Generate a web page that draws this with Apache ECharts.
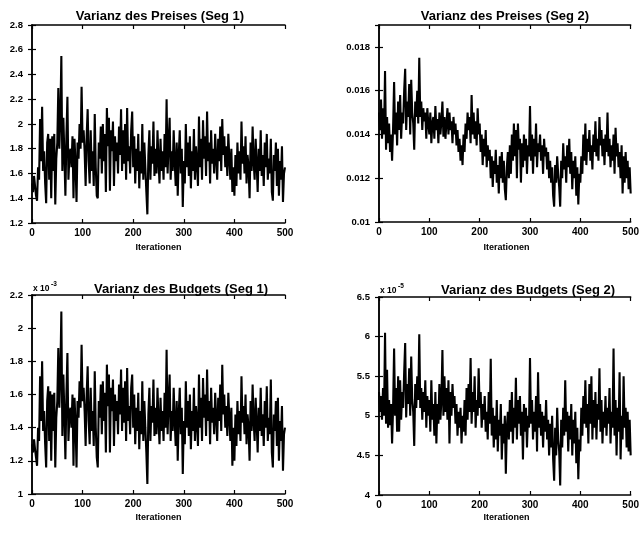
<!DOCTYPE html>
<html>
<head>
<meta charset="utf-8">
<style>
  html, body { margin: 0; padding: 0; background: #fff; }
  #chart { width: 642px; height: 535px; }
</style>
<script src="https://cdn.jsdelivr.net/npm/echarts@6/dist/echarts.min.js"></script>
</head>
<body>
<div id="chart"></div>
<script>
// Gibbs sampler traces: variance draws per iteration (every 2nd draw kept)
const iterStep = 2;
const xTicks = [0, 100, 200, 300, 400, 500];

// Varianz des Preises, Segment 1
const priceVarSeg1 = [
  1.52,1.45,1.58,1.50,1.42, 1.38,1.65,1.55,2.04,1.70, 2.14,1.62,1.78,1.52,1.36, 1.85,1.92,1.55,1.88,1.40,
  1.90,1.62,1.92,1.35,1.72, 1.85,2.29,1.80,2.05,2.55, 1.62,2.05,1.75,1.42,1.90, 2.22,1.55,1.75,1.80,1.65,
  1.90,1.40,1.88,1.68,1.37, 1.85,1.72,2.00,1.80,2.30, 1.85,1.95,1.78,1.50,1.90, 2.12,1.70,1.52,1.95,1.62,
  1.78,1.50,2.08,1.65,1.42, 1.40,1.85,1.72,1.98,1.60, 2.00,1.70,1.92,1.45,2.13, 1.82,2.05,1.46,1.95,1.78,
  2.02,1.50,1.90,1.70,1.85, 1.60,1.98,1.75,2.12,1.62, 1.95,1.68,2.00,1.55,2.13, 1.70,1.82,1.60,1.95,2.10,
  1.65,1.90,1.52,1.80,1.62, 1.92,1.48,1.78,1.60,2.00, 1.55,1.85,1.65,1.45,1.27, 1.75,1.95,1.55,1.82,1.68,
  2.02,1.58,1.80,1.60,1.95, 1.70,1.52,1.88,1.62,1.78, 1.55,1.92,1.65,2.20,1.60, 1.85,2.05,1.55,1.78,1.62,
  1.95,1.70,1.50,1.85,1.42, 1.75,1.95,1.60,1.80,1.33, 1.70,1.52,2.00,1.65,1.85, 1.58,1.90,1.48,1.78,1.62,
  1.96,1.55,1.82,1.68,1.50, 2.06,1.65,1.88,1.55,2.03, 1.72,1.90,1.58,2.10,1.70, 1.85,1.52,1.95,1.68,1.80,
  1.60,1.92,1.72,1.55,1.88, 1.70,1.98,1.62,2.04,1.75, 1.90,1.65,1.82,1.58,1.92, 1.72,1.55,1.80,1.45,1.65,
  1.42,1.75,1.50,1.85,1.60, 1.78,1.55,2.02,1.68,1.82, 1.60,1.90,1.52,1.75,1.65, 1.40,1.85,1.62,1.98,1.70,
  1.55,1.88,1.68,1.45,1.80, 1.62,1.95,1.58,1.75,1.50, 1.85,1.65,1.92,1.55,1.72, 1.60,1.88,1.45,1.38,1.75,
  1.62,1.85,1.50,1.80,1.42, 1.70,1.55,1.82,1.37,1.60, 1.65
];

// Varianz des Preises, Segment 2
const priceVarSeg2 = [
  0.0150,0.0142,0.0156,0.0138,0.0152, 0.0140,0.0169,0.0133,0.0148,0.0136, 0.0145,0.0132,0.0140,0.0128,0.0143,
  0.0164,0.0140,0.0150,0.0135,0.0155, 0.0142,0.0158,0.0138,0.0150,0.0145, 0.0160,0.0170,0.0142,0.0155,0.0148,
  0.0163,0.0140,0.0165,0.0150,0.0145, 0.0133,0.0155,0.0148,0.0160,0.0145, 0.0175,0.0148,0.0155,0.0142,0.0152,
  0.0146,0.0150,0.0138,0.0152,0.0145, 0.0140,0.0150,0.0136,0.0145,0.0148, 0.0138,0.0153,0.0142,0.0147,0.0136,
  0.0150,0.0140,0.0146,0.0155,0.0139, 0.0148,0.0138,0.0145,0.0152,0.0140, 0.0150,0.0142,0.0146,0.0136,0.0148,
  0.0140,0.0145,0.0135,0.0142,0.0132, 0.0138,0.0128,0.0135,0.0126,0.0140, 0.0132,0.0145,0.0138,0.0150,0.0142,
  0.0148,0.0136,0.0158,0.0140,0.0150, 0.0138,0.0146,0.0135,0.0152,0.0140, 0.0145,0.0132,0.0140,0.0126,0.0138,
  0.0130,0.0142,0.0125,0.0135,0.0128, 0.0133,0.0120,0.0130,0.0116,0.0128, 0.0122,0.0133,0.0118,0.0126,0.0113,
  0.0130,0.0120,0.0132,0.0118,0.0128, 0.0115,0.0110,0.0125,0.0132,0.0120, 0.0135,0.0122,0.0140,0.0128,0.0145,
  0.0130,0.0142,0.0120,0.0145,0.0133, 0.0138,0.0118,0.0136,0.0125,0.0140, 0.0128,0.0138,0.0122,0.0135,0.0130,
  0.0153,0.0128,0.0140,0.0122,0.0138, 0.0130,0.0145,0.0125,0.0136,0.0132, 0.0140,0.0128,0.0135,0.0122,0.0138,
  0.0130,0.0134,0.0124,0.0132,0.0120, 0.0128,0.0118,0.0125,0.0112,0.0107, 0.0126,0.0118,0.0130,0.0122,0.0116,
  0.0107,0.0128,0.0120,0.0136,0.0124, 0.0130,0.0118,0.0135,0.0125,0.0138, 0.0122,0.0132,0.0115,0.0128,0.0120,
  0.0130,0.0112,0.0125,0.0108,0.0122, 0.0118,0.0130,0.0122,0.0140,0.0128, 0.0145,0.0126,0.0138,0.0132,0.0142,
  0.0128,0.0135,0.0124,0.0140,0.0132, 0.0146,0.0130,0.0138,0.0128,0.0148, 0.0135,0.0142,0.0130,0.0138,0.0126,
  0.0140,0.0132,0.0150,0.0130,0.0138, 0.0125,0.0135,0.0128,0.0140,0.0122, 0.0143,0.0130,0.0136,0.0125,0.0132,
  0.0120,0.0135,0.0113,0.0130,0.0118, 0.0132,0.0120,0.0128,0.0115,0.0125, 0.0113
];

// Varianz des Budgets, Segment 1 (in units of 1e-3)
const budgetVarSeg1 = [
  1.30,1.25,1.33,1.27,1.22, 1.17,1.40,1.32,1.71,1.44, 1.80,1.38,1.50,1.30,1.16, 1.56,1.65,1.32,1.62,1.20,
  1.60,1.38,1.61,1.16,1.46, 1.56,1.88,1.52,1.72,2.10, 1.35,1.72,1.48,1.21,1.60, 1.85,1.32,1.48,1.52,1.40,
  1.60,1.17,1.58,1.43,1.16, 1.56,1.46,1.68,1.52,1.90, 1.56,1.64,1.50,1.29,1.60, 1.77,1.44,1.30,1.64,1.38,
  1.50,1.29,1.74,1.40,1.22, 1.16,1.56,1.46,1.66,1.36, 1.68,1.44,1.61,1.25,1.78, 1.53,1.72,1.25,1.64,1.50,
  1.69,1.29,1.60,1.44,1.56, 1.36,1.66,1.48,1.75,1.38, 1.64,1.43,1.68,1.32,1.76, 1.44,1.53,1.36,1.64,1.72,
  1.40,1.60,1.30,1.52,1.38, 1.61,1.27,1.50,1.36,1.68, 1.32,1.56,1.40,1.25,1.06, 1.48,1.64,1.32,1.53,1.43,
  1.69,1.35,1.52,1.36,1.64, 1.44,1.30,1.58,1.38,1.50, 1.32,1.61,1.40,1.87,1.36, 1.56,1.72,1.32,1.50,1.38,
  1.64,1.44,1.29,1.56,1.20, 1.48,1.64,1.36,1.52,1.12, 1.44,1.30,1.68,1.40,1.56, 1.35,1.60,1.27,1.50,1.38,
  1.64,1.32,1.53,1.43,1.29, 1.72,1.40,1.58,1.32,1.70, 1.46,1.60,1.35,1.75,1.44, 1.56,1.30,1.64,1.43,1.52,
  1.36,1.61,1.46,1.32,1.58, 1.44,1.66,1.38,1.78,1.48, 1.60,1.40,1.53,1.35,1.61, 1.46,1.32,1.52,1.17,1.40,
  1.20,1.48,1.29,1.56,1.36, 1.50,1.32,1.71,1.43,1.53, 1.36,1.60,1.30,1.48,1.40, 1.20,1.56,1.38,1.66,1.44,
  1.32,1.58,1.43,1.25,1.52, 1.38,1.64,1.35,1.48,1.29, 1.56,1.40,1.65,1.32,1.46, 1.36,1.69,1.25,1.16,1.48,
  1.38,1.56,1.29,1.58,1.20, 1.44,1.32,1.53,1.14,1.36, 1.40
];

// Varianz des Budgets, Segment 2 (in units of 1e-5)
const budgetVarSeg2 = [
  5.30,5.05,5.25,4.95,5.35, 5.00,6.05,4.90,5.58,4.85, 5.20,4.88,5.15,4.65,5.10, 5.85,5.00,5.35,4.80,5.50,
  4.80,5.45,4.95,5.30,5.10, 5.55,5.92,4.98,5.40,5.15, 5.60,5.00,5.75,5.20,5.05, 4.62,5.40,5.10,5.50,5.20,
  6.03,5.10,5.35,4.95,5.30, 5.05,5.45,4.85,5.25,5.00, 5.20,4.80,5.45,4.95,5.15, 4.75,5.30,4.65,5.15,4.90,
  5.40,4.95,5.20,5.83,5.00, 5.50,5.05,5.35,4.95,5.45, 4.65,5.30,5.00,5.40,5.10, 5.25,4.90,5.15,4.75,5.05,
  4.85,5.10,4.65,5.00,4.80, 5.20,4.75,5.35,4.95,5.40, 5.05,5.73,4.90,5.30,5.05, 5.50,4.85,5.20,5.00,5.60,
  5.10,5.30,4.85,5.15,4.95, 5.25,4.80,5.05,4.70,5.30, 4.90,5.72,4.75,5.10,4.60, 5.00,4.70,5.20,4.55,4.95,
  4.75,5.15,4.45,4.90,4.65, 5.00,4.27,4.85,5.05,4.70, 5.20,4.80,5.30,4.65,5.10, 4.85,5.48,4.70,5.20,4.90,
  5.25,4.75,5.05,4.45,5.15, 4.80,5.10,4.60,5.00,4.85, 5.73,4.90,5.20,4.70,5.05, 4.80,5.25,4.55,5.55,4.85,
  5.15,4.75,5.05,4.60,5.00, 4.80,5.20,4.70,4.95,4.50, 4.90,4.60,5.00,4.45,4.18, 4.85,4.50,5.10,4.70,4.55,
  4.12,4.95,4.60,5.10,4.75, 5.45,4.80,5.05,4.55,5.00, 4.70,5.15,4.50,4.95,4.65, 5.05,4.40,4.85,4.20,4.70,
  4.55,5.10,4.75,5.25,4.90, 5.45,4.85,5.15,4.65,5.40, 4.90,5.50,4.70,5.20,4.85, 5.30,4.70,5.15,4.95,5.60,
  4.80,5.20,4.65,5.05,4.85, 5.25,4.75,5.10,4.90,5.35, 4.65,5.05,4.85,5.85,4.75, 5.20,4.50,5.10,4.80,5.55,
  4.45,5.00,4.70,5.50,4.85, 5.10,4.60,5.05,4.55,4.95, 4.50
];

const FONT = '"Liberation Sans", Arial, Helvetica, sans-serif';

const panels = [
  { title: 'Varianz des Preises (Seg 1)',  data: priceVarSeg1,  yMin: 1.2,  yMax: 2.8,   yInt: 0.2,
    grid: { left: 32, top: 25, width: 253, height: 198 }, titleX: 160, titleY: 16, nameY: 248 },
  { title: 'Varianz des Preises (Seg 2)',  data: priceVarSeg2,  yMin: 0.01, yMax: 0.019, yInt: 0.002,
    grid: { left: 379, top: 25, width: 255, height: 197 }, titleX: 505, titleY: 16, nameY: 248 },
  { title: 'Varianz des Budgets (Seg 1)',  data: budgetVarSeg1, yMin: 1,    yMax: 2.2,   yInt: 0.2,
    grid: { left: 32, top: 295, width: 253, height: 199 }, titleX: 181, titleY: 289, nameY: 518, exp: '-3' },
  { title: 'Varianz des Budgets (Seg 2)',  data: budgetVarSeg2, yMin: 4,    yMax: 6.5,   yInt: 0.5,
    grid: { left: 379, top: 297, width: 255, height: 198 }, titleX: 528, titleY: 290, nameY: 518, exp: '-5' }
];

const grids = [], xAxes = [], yAxes = [], series = [], graphics = [];

const tickStyle = { show: true, inside: true, length: 4, lineStyle: { color: '#000', width: 1.2 } };
const lineStyle = { show: true, lineStyle: { color: '#000', width: 1.5 } };

panels.forEach((p, i) => {
  grids.push(Object.assign({ containLabel: false }, p.grid));
  const xb = xAxes.length;
  // bottom axis with labels, top axis as box edge with inward ticks
  xAxes.push({
    type: 'value', gridIndex: i, position: 'bottom', min: 0, max: 500, interval: 100,
    axisLine: lineStyle, axisTick: tickStyle, splitLine: { show: false },
    axisLabel: { color: '#000', fontFamily: FONT, fontWeight: 'bold', fontSize: 10, margin: 5 }
  });
  xAxes.push({
    type: 'value', gridIndex: i, position: 'top', min: 0, max: 500, interval: 100,
    axisLine: lineStyle, axisTick: tickStyle, splitLine: { show: false }, axisLabel: { show: false }
  });
  const yl = yAxes.length;
  yAxes.push({
    type: 'value', gridIndex: i, position: 'left', min: p.yMin, max: p.yMax, interval: p.yInt,
    axisLine: lineStyle, axisTick: tickStyle, splitLine: { show: false },
    axisLabel: { color: '#000', fontFamily: FONT, fontWeight: 'bold', fontSize: 9.5, margin: 9,
                 showMaxLabel: i !== 1 }
  });
  yAxes.push({
    type: 'value', gridIndex: i, position: 'right', min: p.yMin, max: p.yMax, interval: p.yInt,
    axisLine: lineStyle, axisTick: tickStyle, splitLine: { show: false }, axisLabel: { show: false }
  });
  series.push({
    type: 'line', xAxisIndex: xb, yAxisIndex: yl, showSymbol: false, symbol: 'none',
    animation: false, lineStyle: { color: '#000', width: 2.1 },
    data: p.data.map((v, k) => [k * iterStep, v])
  });
  graphics.push({
    type: 'text', x: p.titleX, y: p.titleY,
    style: { text: p.title, fill: '#000', font: 'bold 13px ' + FONT, textAlign: 'center', textVerticalAlign: 'middle' }
  });
  graphics.push({
    type: 'text', x: p.grid.left + p.grid.width / 2, y: p.nameY,
    style: { text: 'Iterationen', fill: '#000', font: 'bold 9px ' + FONT, textAlign: 'center', textVerticalAlign: 'middle' }
  });
  if (p.exp) {
    graphics.push({
      type: 'text', x: p.grid.left + 1, y: p.grid.top - 6,
      style: { text: 'x 10', fill: '#000', font: 'bold 8.5px ' + FONT, textAlign: 'left', textVerticalAlign: 'middle' }
    });
    graphics.push({
      type: 'text', x: p.grid.left + 19, y: p.grid.top - 11,
      style: { text: p.exp, fill: '#000', font: 'bold 6.5px ' + FONT, textAlign: 'left', textVerticalAlign: 'middle' }
    });
  }
});

const chart = echarts.init(document.getElementById('chart'), null, { renderer: 'canvas' });
chart.setOption({
  animation: false,
  backgroundColor: '#fff',
  grid: grids,
  xAxis: xAxes,
  yAxis: yAxes,
  series: series,
  graphic: graphics
});
</script>
</body>
</html>
